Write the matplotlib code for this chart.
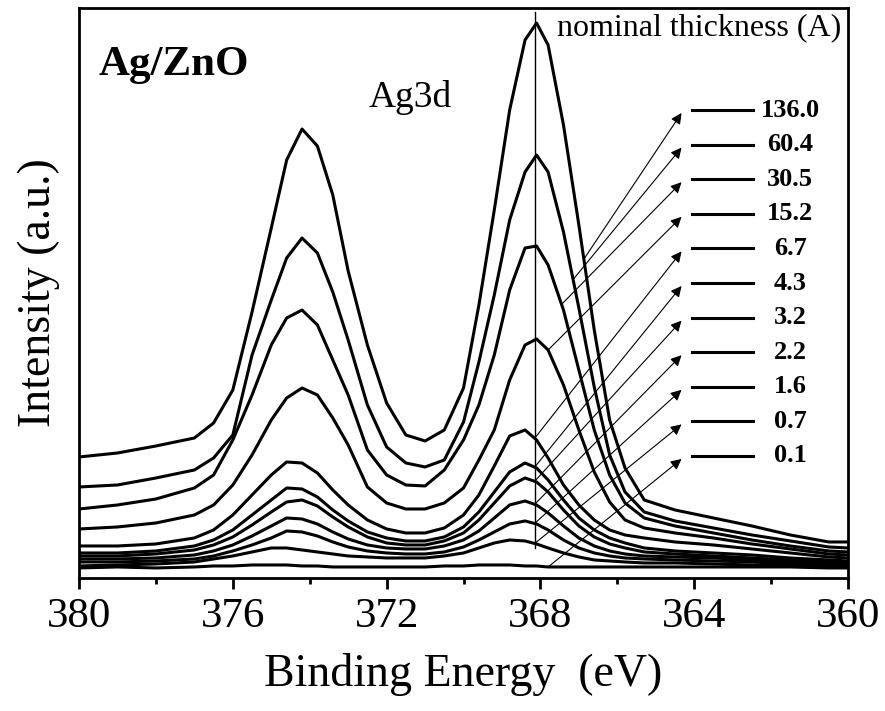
import matplotlib.pyplot as plt
from matplotlib.ticker import MultipleLocator

plt.rcParams['font.family'] = ['Liberation Serif', 'DejaVu Serif']

# binding energy grid (eV)
energy = [380, 379, 378, 377, 376.5, 376, 375.5, 375, 374.6, 374.2, 373.8, 373.4, 373, 372.5, 372,
          371.5, 371, 370.5, 370, 369.6, 369.2, 368.8, 368.4, 368.1, 367.8, 367.4, 367, 366.6, 366.2,
          365.8, 365.3, 364.5, 363.5, 362.5, 361.5, 360.5, 360]

# Ag3d intensity (a.u.) for each nominal thickness
i_136_0 = [121, 125, 132, 140, 155, 188, 266, 350, 418, 449, 432, 383, 307, 233, 175, 143, 137, 148, 190,
           273, 368, 468, 538, 555, 533, 453, 353, 248, 158, 110, 78, 68, 60, 52, 43, 36, 36]
i_60_4 = [91, 93, 100, 108, 120, 143, 223, 278, 320, 340, 325, 286, 238, 173, 131, 115, 111, 118, 156,
          216, 283, 358, 406, 423, 406, 346, 270, 191, 123, 86, 66, 57, 50, 43, 37, 31, 30]
i_30_5 = [69, 73, 79, 90, 103, 138, 183, 233, 260, 268, 253, 218, 183, 128, 103, 93, 92, 108, 138,
          173, 223, 288, 330, 332, 313, 268, 208, 148, 103, 75, 60, 52, 45, 38, 32, 27, 26]
i_15_2 = [49, 51, 55, 63, 73, 93, 123, 158, 180, 190, 183, 160, 133, 91, 75, 69, 69, 75, 90,
          118, 148, 198, 233, 239, 228, 193, 148, 106, 76, 58, 50, 45, 40, 34, 29, 24, 23]
i_6_7 = [32, 32, 34, 40, 48, 63, 83, 103, 116, 115, 105, 88, 73, 58, 49, 45, 45, 50, 63,
         83, 112, 142, 148, 138, 120, 93, 73, 58, 48, 43, 40, 36, 33, 29, 25, 21, 20]
i_4_3 = [25, 25, 27, 32, 38, 48, 63, 78, 90, 89, 81, 68, 57, 46, 40, 37, 37, 41, 51,
         66, 86, 106, 115, 110, 98, 78, 60, 48, 40, 35, 30, 27, 25, 23, 20, 18, 17]
i_3_2 = [22, 22, 24, 28, 33, 41, 53, 66, 76, 78, 72, 61, 51, 41, 35, 33, 33, 37, 45,
         58, 75, 92, 100, 96, 86, 68, 52, 41, 34, 30, 26, 24, 22, 20, 18, 16, 15]
i_2_2 = [19, 19, 20, 23, 27, 33, 42, 52, 60, 59, 54, 46, 39, 33, 30, 29, 29, 32, 38,
         47, 60, 73, 77, 73, 65, 52, 40, 32, 27, 24, 22, 21, 20, 18, 16, 14, 13]
i_1_6 = [16, 16, 17, 19, 22, 27, 33, 40, 47, 46, 42, 36, 31, 27, 25, 24, 24, 26, 31,
         38, 46, 54, 57, 54, 48, 38, 30, 25, 22, 20, 19, 18, 17, 16, 14, 13, 12]
i_0_7 = [12, 13, 14, 16, 19, 22, 26, 30, 30, 28, 26, 24, 22, 21, 20, 20, 20, 22, 25,
         30, 35, 38, 37, 34, 30, 25, 21, 18, 17, 16, 15, 15, 14, 13, 12, 11, 11]
i_0_1 = [10, 11, 10, 11, 12, 12, 13, 13, 13, 12, 12, 11, 11, 11, 11, 11, 11, 12, 12,
         13, 13, 13, 12, 12, 11, 11, 11, 11, 11, 11, 11, 11, 11, 11, 11, 10, 10]

thickness = ['136.0', '60.4', '30.5', '15.2', '6.7', '4.3', '3.2', '2.2', '1.6', '0.7', '0.1']
spectra = [i_136_0, i_60_4, i_30_5, i_15_2, i_6_7, i_4_3, i_3_2, i_2_2, i_1_6, i_0_7, i_0_1]
# energy on each curve where its arrow starts (eV)
arrow_start = [366.87, 367.15, 367.45, 367.8, 368.15, 368.15, 368.15, 368.15, 368.15, 368.15, 367.8]


def value_at(e, xs, ys):
    for j in range(len(xs) - 1):
        if xs[j] >= e >= xs[j + 1]:
            t = (xs[j] - e) / (xs[j] - xs[j + 1])
            return ys[j] + t * (ys[j + 1] - ys[j])
    return ys[-1]


fig = plt.figure(figsize=(8.85, 7.11), dpi=100)
ax = fig.add_axes([0.0893, 0.1871, 0.8689, 0.8016])

for y in spectra:
    ax.plot(energy, y, color='k', lw=2.2)

# peak position marker
ax.plot([368.15, 368.15], [30, 566], color='k', lw=1.0)

# hand made legend with arrows
label_y0 = 468
step = 34.6
for k, lab in enumerate(thickness):
    ly = label_y0 - k * step
    ax.plot([364.06, 362.47], [ly, ly], color='k', lw=2.2)
    ax.text(361.5, ly, lab, ha='center', va='center', fontsize=19, fontweight='bold')
    e0 = arrow_start[k]
    y0 = value_at(e0, energy, spectra[k])
    ax.annotate('', xy=(364.33, ly - 3), xytext=(e0, y0),
                arrowprops=dict(arrowstyle='-|>', lw=0.8, color='k', mutation_scale=16,
                                shrinkA=0, shrinkB=0))

ax.text(379.5, 503, 'Ag/ZnO', fontsize=31, fontweight='bold', va='baseline')
ax.text(372.48, 471, 'Ag3d', fontsize=27, va='baseline')
ax.text(367.57, 543, 'nominal thickness (A)', fontsize=23, va='baseline')

ax.set_xlim(380, 360)
ax.set_ylim(0, 570)
ax.set_yticks([])
ax.xaxis.set_major_locator(MultipleLocator(4))
ax.xaxis.set_minor_locator(MultipleLocator(2))
ax.tick_params(axis='x', which='major', direction='out', length=8, width=2, labelsize=31, pad=6)
ax.tick_params(axis='x', which='minor', direction='out', length=4, width=2)
for s in ax.spines.values():
    s.set_linewidth(2)

ax.set_xlabel('Binding Energy  (eV)', fontsize=33, labelpad=12)
ax.set_ylabel('Intensity (a.u.)', fontsize=33, labelpad=14)

plt.savefig('out.png', dpi=100)
